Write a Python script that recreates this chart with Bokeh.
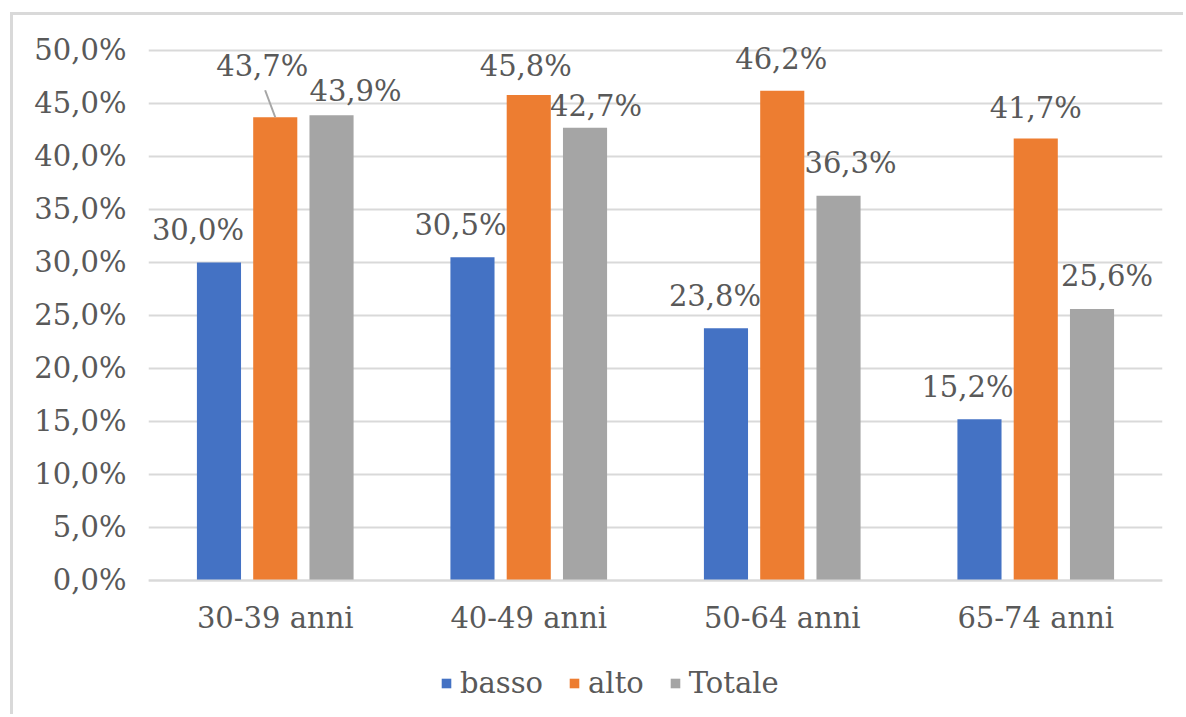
from bokeh.plotting import figure
from bokeh.models import (FactorRange, Range1d, FixedTicker, Legend, LegendItem,
                          ColumnDataSource, CategoricalAxis)
from bokeh.transform import dodge
from bokeh.core.properties import value
from bokeh.embed import file_html
from bokeh.resources import INLINE

# ---------------- data ----------------
categories = ["30-39 anni", "40-49 anni", "50-64 anni", "65-74 anni"]
basso = [30.0, 30.5, 23.8, 15.2]
alto = [43.7, 45.8, 46.2, 41.7]
totale = [43.9, 42.7, 36.3, 25.6]
series_names = ["basso", "alto", "Totale"]
y_ticks = [0, 5, 10, 15, 20, 25, 30, 35, 40, 45, 50]
y_tick_labels = ["0,0%", "5,0%", "10,0%", "15,0%", "20,0%", "25,0%",
                 "30,0%", "35,0%", "40,0%", "45,0%", "50,0%"]

# ---------------- style / layout ----------------
colors = ["#4472C4", "#ED7D31", "#A5A5A5"]
offsets = [-0.222, 0.0, 0.222]
bar_width = 0.174
FONT = "DejaVu Serif"
FS = "29px"
TXT = "#595959"
GRID = "#d9d9d9"
Y_LOW = -12.74   # extra room below zero for category labels and legend
Y_HIGH = 53.3    # extra room above the 50% gridline for data labels
# label nudges in pixels (per series, per category)
label_dx = [[-21, -12, -11, -12], [-13, -3, -1, 0], [24, 11, 12, 15]]
label_dy = [[-32, -32, -32, -32], [-51, -29, -32, -30], [-24, -22, -33, -33]]


def fmt(v):
    return f"{v:.1f}".replace(".", ",") + "%"


p = figure(x_range=FactorRange(factors=categories, range_padding=0),
           y_range=Range1d(Y_LOW, Y_HIGH),
           width=1173, height=702,
           output_backend="svg", toolbar_location=None,
           min_border_left=135, min_border_right=24,
           min_border_top=0, min_border_bottom=2,
           x_axis_location=None)
p.margin = (12, 0, 0, 10)
p.styles = {"border-left": "3px solid #d9d9d9", "border-top": "3px solid #d9d9d9"}
p.outline_line_color = None
p.background_fill_color = "white"
p.border_fill_color = "white"

p.xgrid.grid_line_color = None
p.ygrid.ticker = FixedTicker(ticks=y_ticks)
p.ygrid.grid_line_color = GRID
p.ygrid.grid_line_width = 2

p.yaxis.ticker = FixedTicker(ticks=y_ticks)
p.yaxis.major_label_overrides = dict(zip(y_ticks, y_tick_labels))
p.yaxis.axis_line_color = None
p.yaxis.major_tick_line_color = None
p.yaxis.minor_tick_line_color = None
p.yaxis.major_label_text_font = FONT
p.yaxis.major_label_text_font_size = FS
p.yaxis.major_label_text_color = TXT
p.yaxis.major_label_standoff = 16

xaxis = CategoricalAxis(fixed_location=0)
xaxis.axis_line_color = GRID
xaxis.axis_line_width = 2
xaxis.major_tick_line_color = None
xaxis.minor_tick_line_color = None
xaxis.major_label_text_font = FONT
xaxis.major_label_text_font_size = FS
xaxis.major_label_text_color = TXT
xaxis.major_label_standoff = 15
p.add_layout(xaxis, "below")

all_series = [basso, alto, totale]
renderers = []
for i, (name, vals) in enumerate(zip(series_names, all_series)):
    src = ColumnDataSource(dict(cat=categories, val=vals,
                                lab=[fmt(v) for v in vals],
                                dx=label_dx[i], dy=label_dy[i]))
    r = p.vbar(x=dodge("cat", offsets[i], range=p.x_range), top="val",
               bottom=0, width=bar_width, source=src, fill_color=colors[i],
               line_color=None)
    renderers.append(r)
    p.text(x=dodge("cat", offsets[i], range=p.x_range), y="val", text="lab",
           x_offset="dx", y_offset="dy", source=src,
           text_align="center", text_baseline="alphabetic",
           text_font=value(FONT), text_font_size=FS, text_color=TXT)

# leader line for the displaced label (alto, first category)
lead = ColumnDataSource(dict(cat=[categories[0]], y0=[alto[0]], y1=[alto[0] + 2.55]))
p.segment(x0=dodge("cat", offsets[1], range=p.x_range), y0="y0",
          x1=dodge("cat", offsets[1] - 0.04, range=p.x_range), y1="y1",
          source=lead, line_color="#a6a6a6", line_width=2)

legend = Legend(items=[LegendItem(label=n, renderers=[r])
                       for n, r in zip(series_names, renderers)],
                orientation="horizontal", location=(292, 15),
                glyph_width=12, glyph_height=12,
                label_text_font=FONT, label_text_font_size=FS,
                label_text_color=TXT, border_line_color=None,
                background_fill_alpha=0, spacing=25, label_standoff=8,
                padding=0, margin=0)
p.add_layout(legend, "center")

open("out.html", "w").write(file_html(p, INLINE))
